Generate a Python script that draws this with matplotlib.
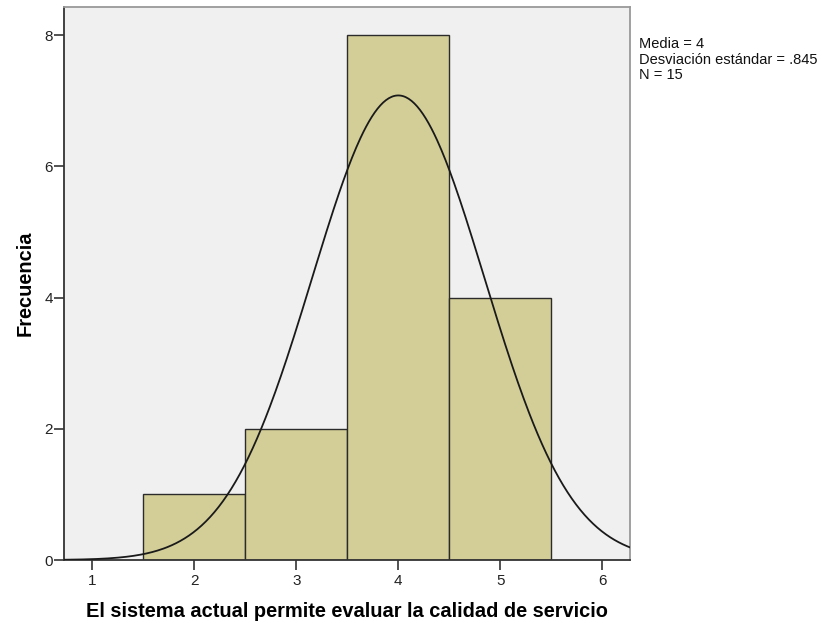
import numpy as np
import matplotlib
matplotlib.use("Agg")
import matplotlib.pyplot as plt

bin_edges = [1.5, 2.5, 3.5, 4.5, 5.5]
counts = [1, 2, 8, 4]
mean = 4.0
sd = 0.845
n = 15
xticks = [1, 2, 3, 4, 5, 6]
yticks = [0, 2, 4, 6, 8]
xlabel = "El sistema actual permite evaluar la calidad de servicio"
ylabel = "Frecuencia"
stats_text = "Media = 4\nDesviación estándar = .845\nN = 15"

plt.rcParams['font.family'] = ['Liberation Sans', 'DejaVu Sans']

fig = plt.figure(figsize=(8.22, 6.23), dpi=100)
ax = fig.add_axes([64/822, 1-560/623, (630-64)/822, (560-7)/623])
ax.set_facecolor('#F0F0F0')

lefts = bin_edges[:-1]
widths = np.diff(bin_edges)
ax.bar(lefts, counts, width=widths, align='edge', color='#D3CE98',
       edgecolor='#2b2b2b', linewidth=1.0, zorder=2)

xmin, xmax = 0.725, 6.27
xs = np.linspace(xmin, xmax, 400)
binw = 1.0
ys = n * binw / (sd * np.sqrt(2*np.pi)) * np.exp(-0.5*((xs-mean)/sd)**2)
ax.plot(xs, ys, color='#1a1a1a', linewidth=1.3, zorder=3)

ax.set_xlim(xmin, xmax)
ax.set_ylim(0, 8.43)
ax.set_xticks(xticks)
ax.set_yticks(yticks)
ax.tick_params(axis='both', labelsize=11, color='#333333', length=7, width=1.2, labelcolor='#222222')
ax.tick_params(axis='x', pad=3)
ax.tick_params(axis='y', pad=1)

for s in ['left', 'bottom']:
    ax.spines[s].set_color('#333333')
    ax.spines[s].set_linewidth(1.3)
for s in ['top', 'right']:
    ax.spines[s].set_color('#999999')
    ax.spines[s].set_linewidth(1.3)

ax.set_xlabel(xlabel, fontsize=14.4, fontweight='bold', labelpad=10)
ax.set_ylabel(ylabel, fontsize=14.4, fontweight='bold', labelpad=7)

fig.text(639/822, 1-37/623, stats_text, fontsize=10.5, va='top', ha='left',
         color='#111111', linespacing=1.15)

fig.savefig('out.png', dpi=100)
